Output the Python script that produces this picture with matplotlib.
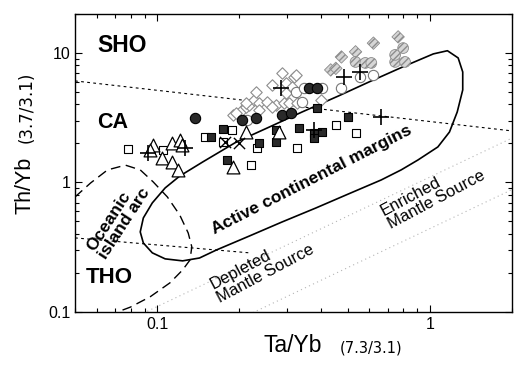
import numpy as np
import matplotlib
matplotlib.use('Agg')
import matplotlib.pyplot as plt
from matplotlib.ticker import LogLocator, FuncFormatter, NullFormatter

plt.rcParams['font.family'] = ['Liberation Sans', 'DejaVu Sans']

# field boundaries (Ta/Yb, Th/Yb)
acm_x = [0.195, 0.147, 0.121, 0.107, 0.096, 0.089, 0.0867, 0.089, 0.096, 0.107,
         0.124, 0.143, 0.165, 0.218, 0.287, 0.382, 0.503, 0.663, 0.785, 0.904,
         1.07, 1.18, 1.26, 1.32, 1.32, 1.27, 1.16, 1.03, 0.811, 0.610,
         0.463, 0.340, 0.258, 0.195]
acm_y = [2.05, 1.44, 1.12, 0.907, 0.695, 0.532, 0.415, 0.341, 0.286, 0.257,
         0.248, 0.261, 0.301, 0.386, 0.495, 0.635, 0.815, 1.045, 1.25, 1.49,
         1.88, 2.45, 3.50, 5.18, 7.13, 9.15, 10.4, 9.83, 7.94, 6.08,
         4.66, 3.50, 2.68, 2.05]

arc_x = [0.050, 0.057, 0.0658, 0.0765, 0.0867, 0.0967, 0.109, 0.121, 0.130,
         0.134, 0.132, 0.124, 0.1115, 0.0943, 0.0798, 0.0716]
arc_y = [0.773, 0.99, 1.25, 1.36, 1.25, 1.01, 0.773, 0.561, 0.407,
         0.318, 0.252, 0.211, 0.168, 0.131, 0.109, 0.1]

sho_ca_x = [0.05, 2.0]
sho_ca_y = [6.08, 2.50]
ca_tho_x = [0.05, 0.218]
ca_tho_y = [0.373, 0.286]

# mantle array limits, Th/Yb = k * Ta/Yb
mantle_k = [0.44, 1.1]

# samples
open_sq_x = [0.0785, 0.105, 0.1495, 0.1875, 0.174, 0.233, 0.2215, 0.326, 0.452, 0.534]
open_sq_y = [1.81, 1.78, 2.24, 2.54, 2.05, 1.85, 1.36, 1.85, 2.78, 2.41]

fill_sq_x = [0.157, 0.174, 0.181, 0.237, 0.273, 0.273, 0.331, 0.385, 0.503, 0.376, 0.402, 0.376]
fill_sq_y = [2.24, 2.59, 1.49, 2.02, 2.54, 2.05, 2.64, 3.76, 3.21, 2.41, 2.45, 2.21]

tri_x = [0.0967, 0.1043, 0.1134, 0.119, 0.1134, 0.121, 0.123, 0.189, 0.2125, 0.280, 0.0944]
tri_y = [1.95, 1.55, 1.44, 1.25, 2.02, 2.13, 1.95, 1.32, 2.45, 2.45, 1.78]

plus_x = [0.0927, 0.1265, 0.285, 0.483, 0.556, 0.376, 0.664]
plus_y = [1.69, 1.85, 5.37, 6.53, 7.13, 2.54, 3.21]

cross_x = [0.1768, 0.200]
cross_y = [2.05, 2.02]

fill_circ_x = [0.1375, 0.204, 0.231, 0.287, 0.310, 0.360, 0.385]
fill_circ_y = [3.15, 3.04, 3.15, 3.32, 3.44, 5.37, 5.37]

open_circ_x = [0.214, 0.323, 0.345, 0.402, 0.474, 0.556, 0.621, 0.340]
open_circ_y = [3.04, 5.00, 5.37, 5.37, 5.37, 6.53, 6.76, 4.19]

grey_circ_x = [0.534, 0.580, 0.610, 0.746, 0.811, 0.746, 0.798]
grey_circ_y = [8.52, 8.37, 8.37, 8.52, 8.52, 9.66, 10.9]

grey_dia_x = [0.433, 0.474, 0.534, 0.621, 0.765, 0.452]
grey_dia_y = [7.39, 9.31, 10.2, 11.9, 13.3, 7.6]

open_dia_x = [0.189, 0.204, 0.2125, 0.195, 0.218, 0.227, 0.237, 0.2535, 0.273, 0.292,
              0.297, 0.318, 0.297, 0.231, 0.264, 0.287, 0.3125, 0.323, 0.2125, 0.237,
              0.264, 0.305, 0.326, 0.398]
open_dia_y = [3.32, 3.63, 3.83, 3.44, 3.97, 4.34, 4.11, 4.19, 3.97, 4.11,
              5.87, 6.53, 4.91, 5.00, 5.66, 7.01, 5.46, 6.76, 4.11, 3.63,
              3.83, 4.11, 4.11, 4.34]

fig = plt.figure(figsize=(5.14, 3.67), dpi=100)
ax = fig.add_axes([0.146, 0.150, 0.850, 0.812])
ax.set_xscale('log')
ax.set_yscale('log')
ax.set_xlim(0.05, 2)
ax.set_ylim(0.1, 20)

# mantle array
xm = np.array([0.05, 2.0])
for k in mantle_k:
    ax.plot(xm, k * xm, color='#b5b5b5', lw=0.8, ls=(0, (1, 3)), zorder=1)

ax.plot(sho_ca_x, sho_ca_y, color='k', lw=0.8, ls=(0, (2.5, 3)), zorder=2)
ax.plot(ca_tho_x, ca_tho_y, color='k', lw=0.8, ls=(0, (2.5, 3)), zorder=2)
ax.plot(arc_x, arc_y, color='k', lw=1.0, ls=(0, (7, 4)), zorder=2)
ax.plot(acm_x, acm_y, color='k', lw=1.2, zorder=2)

ax.scatter(open_dia_x, open_dia_y, marker='D', s=34, facecolor='white', edgecolor='#8c8c8c', lw=0.8, zorder=3)
ax.scatter(grey_dia_x, grey_dia_y, marker='D', s=40, facecolor='#d6d6d6', edgecolor='#8c8c8c', hatch='/////', lw=0.6, zorder=3)
ax.scatter(grey_circ_x, grey_circ_y, marker='o', s=60, facecolor='#d6d6d6', edgecolor='#8c8c8c', hatch='/////', lw=0.6, zorder=3)
ax.scatter(open_circ_x, open_circ_y, marker='o', s=55, facecolor='white', edgecolor='#777777', lw=0.8, zorder=3)
ax.scatter(fill_circ_x, fill_circ_y, marker='o', s=55, facecolor='#2a2a2a', edgecolor='k', lw=0.8, zorder=4)
ax.scatter(open_sq_x, open_sq_y, marker='s', s=36, facecolor='white', edgecolor='k', lw=0.8, zorder=4)
ax.scatter(fill_sq_x, fill_sq_y, marker='s', s=40, facecolor='#2a2a2a', edgecolor='k', lw=0.8, zorder=4)
ax.scatter(tri_x, tri_y, marker='^', s=85, facecolor='white', edgecolor='k', lw=0.9, zorder=5)
ax.scatter(cross_x, cross_y, marker='x', s=65, color='k', lw=1.0, zorder=5)
ax.scatter(plus_x, plus_y, marker='+', s=140, color='k', lw=1.2, zorder=6)

# field labels
ax.text(0.0605, 11.5, 'SHO', fontsize=16.5, fontweight='bold', va='center')
ax.text(0.0605, 2.88, 'CA', fontsize=15.5, fontweight='bold', va='center')
ax.text(0.0547, 0.186, 'THO', fontsize=16, fontweight='bold', va='center')
ax.text(0.072, 0.52, 'Oceanic\nisland arc', fontsize=12.5, fontweight='bold', rotation=57,
        ha='center', va='center', multialignment='left', linespacing=0.95, rotation_mode='anchor')
ax.text(0.37, 1.05, 'Active continental margins', fontsize=12.5, fontweight='bold', rotation=27,
        ha='center', va='center', rotation_mode='anchor')
ax.text(0.243, 0.2226, 'Depleted\nMantle Source', fontsize=12, rotation=28,
        ha='center', va='center', multialignment='left', linespacing=1.0, rotation_mode='anchor')
ax.text(1.024, 0.83, 'Enriched\nMantle Source', fontsize=12, rotation=28,
        ha='center', va='center', multialignment='left', linespacing=1.0, rotation_mode='anchor')

fmt = FuncFormatter(lambda v, p: '%g' % v)
for axis in (ax.xaxis, ax.yaxis):
    axis.set_major_locator(LogLocator(base=10))
    axis.set_minor_locator(LogLocator(base=10, subs=np.arange(2, 10)))
    axis.set_major_formatter(fmt)
    axis.set_minor_formatter(NullFormatter())
ax.tick_params(which='both', direction='in', top=True, right=True, labelsize=11.5, width=0.8)
ax.tick_params(which='major', length=5)
ax.tick_params(which='minor', length=3)
for sp in ax.spines.values():
    sp.set_linewidth(1.0)

# axis titles with smaller normalising ratios
fig.text(263 / 514, 1 - 346 / 367, 'Ta/Yb', fontsize=16.5, va='center', ha='left')
fig.text(340 / 514, 1 - 348 / 367, '(7.3/3.1)', fontsize=10.5, va='center', ha='left',
         family='DejaVu Sans')
fig.text(25 / 514, 1 - 185 / 367, 'Th/Yb', fontsize=15.5, va='center', ha='center', rotation=90)
fig.text(27 / 514, 1 - 107 / 367, '(3.7/3.1)', fontsize=12, va='center', ha='center',
         rotation=90, family='DejaVu Sans')

fig.savefig('out.png', dpi=100)
